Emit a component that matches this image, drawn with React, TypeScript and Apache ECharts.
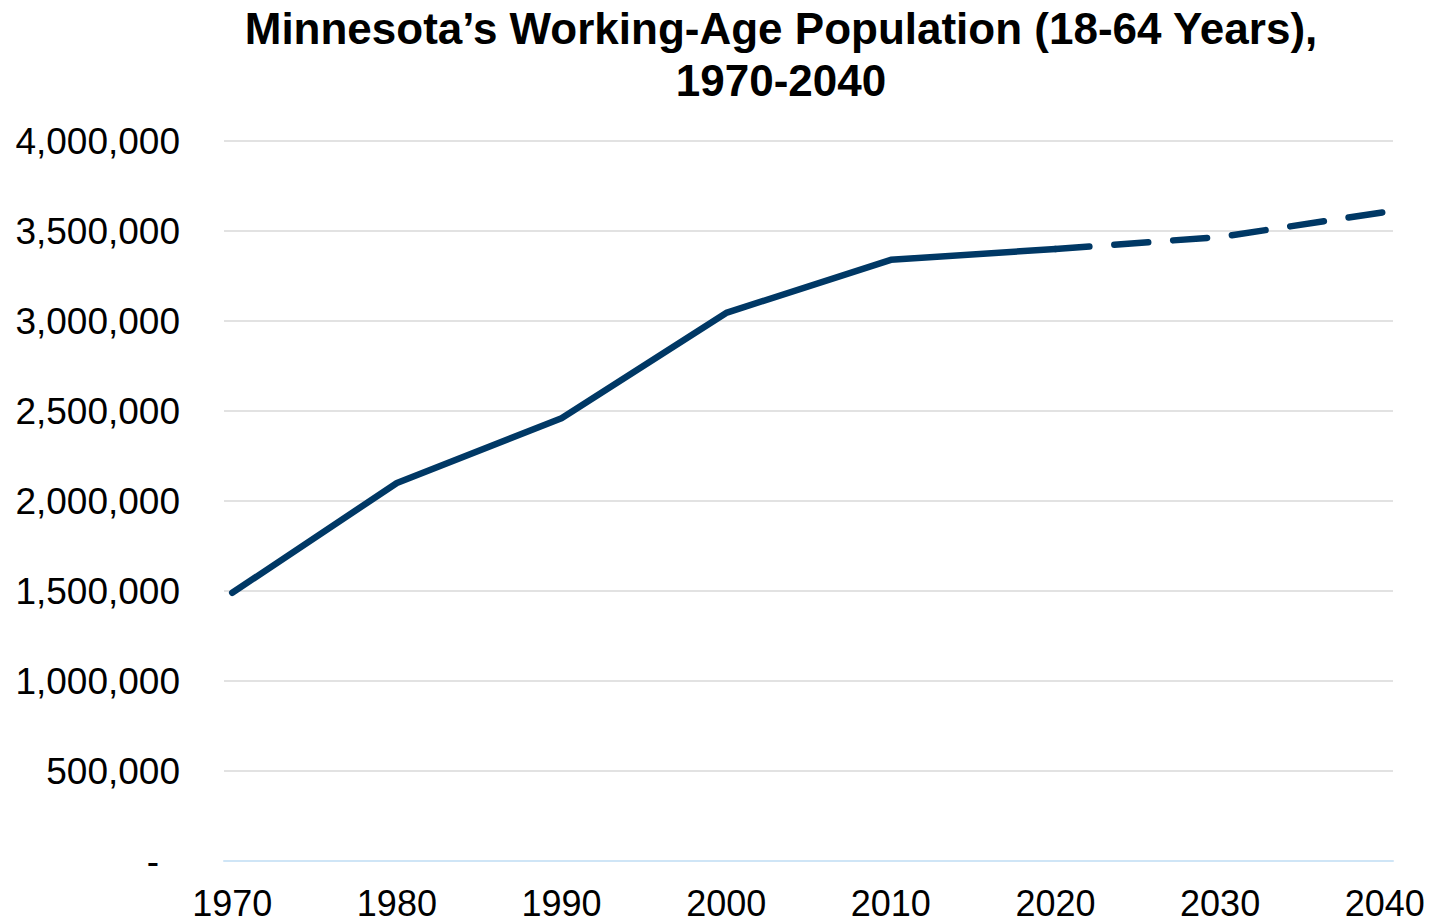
import React, { useEffect, useRef } from "react";
import * as echarts from "echarts";

const years: string[] = [];
for (let y = 1970; y <= 2040; y++) years.push(String(y));

const decadeYears = ["1970", "1980", "1990", "2000", "2010", "2020"];
const decadeValues = [1490000, 2100000, 2460000, 3045000, 3340000, 3400000];

const projYears = ["2020", "2030", "2040"];
const projValues = [3400000, 3467000, 3605000];

const titleLines = ["Minnesota\u2019s Working-Age Population (18-64 Years),", "1970-2040"];

function toSeries(ys: string[], vs: number[]) {
  return years.map((y) => {
    const i = ys.indexOf(y);
    return i >= 0 ? vs[i] : null;
  });
}

export default function App() {
  const ref = useRef<HTMLDivElement>(null);
  useEffect(() => {
    if (!ref.current) return;
    const chart = echarts.init(ref.current, undefined, { renderer: "svg" });
    const color = "#003865";
    const font = "Liberation Sans, Arial, sans-serif";
    chart.setOption({
      animation: false,
      backgroundColor: "#ffffff",
      title: {
        text: titleLines.join("\n"),
        left: 776,
        top: -3,
        textAlign: "center",
        textStyle: {
          fontFamily: font,
          fontWeight: "bold",
          fontSize: 44,
          lineHeight: 52,
          color: "#000",
        },
      },
      grid: { left: 224, right: 39, top: 141, bottom: 62, containLabel: false },
      xAxis: {
        type: "category",
        data: years,
        boundaryGap: true,
        axisLine: { show: true, lineStyle: { color: "#cfe5f6", width: 2 } },
        axisTick: { show: false },
        axisLabel: {
          interval: 9,
          margin: 24,
          fontFamily: font,
          fontSize: 36,
          color: "#000",
        },
        splitLine: { show: false },
      },
      yAxis: {
        type: "value",
        min: 0,
        max: 4000000,
        interval: 500000,
        axisLine: { show: false },
        axisTick: { show: false },
        splitLine: { show: true, lineStyle: { color: "#d9d9d9", width: 1.5 } },
        axisLabel: {
          margin: 44,
          fontFamily: font,
          fontSize: 37,
          color: "#000",
          formatter: (v: number) =>
            v === 0 ? "{dash|-}" : v.toLocaleString("en-US"),
          rich: {
            dash: {
              fontFamily: font,
              fontSize: 37,
              color: "#000",
              padding: [0, 21, 0, 0],
            },
          },
        },
      },
      series: [
        {
          type: "line",
          data: toSeries(decadeYears, decadeValues),
          connectNulls: true,
          showSymbol: false,
          symbol: "none",
          lineStyle: { color, width: 6.5, cap: "round", join: "round" },
          z: 3,
        },
        {
          type: "line",
          data: toSeries(projYears, projValues),
          connectNulls: true,
          showSymbol: false,
          symbol: "none",
          lineStyle: { color, width: 6.5, type: [34, 25], cap: "round", join: "round" },
          z: 2,
        },
      ],
    });
    return () => chart.dispose();
  }, []);
  return (
    <div
      ref={ref}
      style={{ position: "absolute", left: 0, top: 0, width: 1432, height: 923 }}
    />
  );
}
